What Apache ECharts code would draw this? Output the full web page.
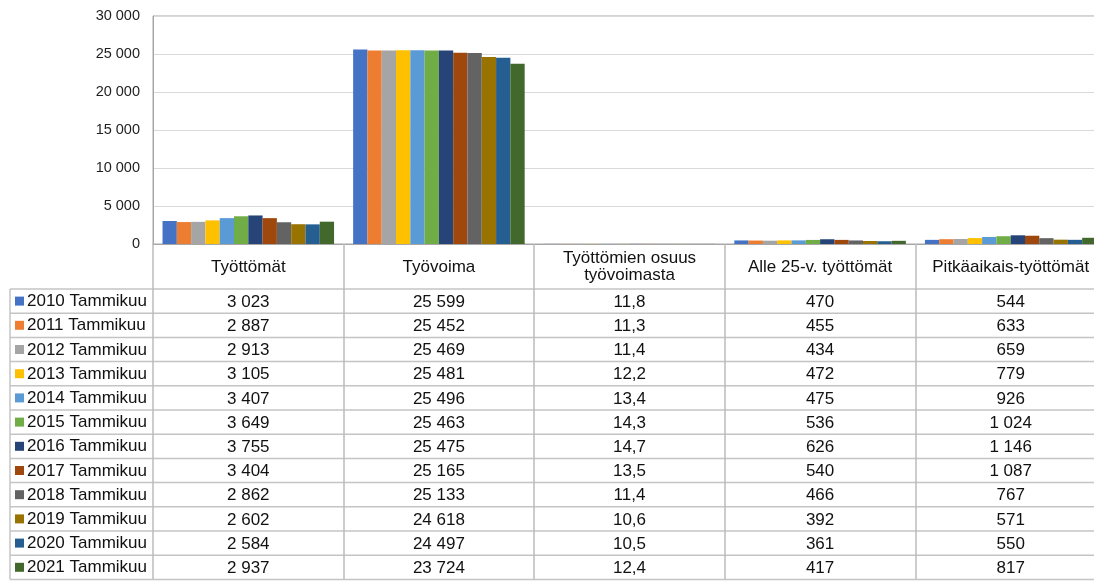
<!DOCTYPE html>
<html><head><meta charset="utf-8">
<script src="https://cdn.jsdelivr.net/npm/echarts@6/dist/echarts.min.js"></script>
<style>html,body{margin:0;padding:0;background:#fff}#c{width:1094px;height:581px}</style>
</head><body><div id="c"></div>
<script>
const categories = ['Työttömät', 'Työvoima', 'Työttömien osuus\ntyövoimasta', 'Alle 25-v. työttömät', 'Pitkäaikais-työttömät'];
const years = ['2010 Tammikuu','2011 Tammikuu','2012 Tammikuu','2013 Tammikuu','2014 Tammikuu','2015 Tammikuu','2016 Tammikuu','2017 Tammikuu','2018 Tammikuu','2019 Tammikuu','2020 Tammikuu','2021 Tammikuu'];
const tyottomat = [3023, 2887, 2913, 3105, 3407, 3649, 3755, 3404, 2862, 2602, 2584, 2937];
const tyovoima = [25599, 25452, 25469, 25481, 25496, 25463, 25475, 25165, 25133, 24618, 24497, 23724];
const osuus = [11.8, 11.3, 11.4, 12.2, 13.4, 14.3, 14.7, 13.5, 11.4, 10.6, 10.5, 12.4];
const alle25 = [470, 455, 434, 472, 475, 536, 626, 540, 466, 392, 361, 417];
const pitka = [544, 633, 659, 779, 926, 1024, 1146, 1087, 767, 571, 550, 817];
const yTicks = [0, 5000, 10000, 15000, 20000, 25000, 30000];
const colors = ['#4472C4','#ED7D31','#A5A5A5','#FFC000','#5B9BD5','#70AD47','#264478','#9E480E','#636363','#997300','#255E91','#43682B'];

const columns = [tyottomat, tyovoima, osuus, alle25, pitka];
function fmtInt(v){ return String(v).replace(/\B(?=(\d{3})+(?!\d))/g, ' '); }
function fmt(v, col){ return col === 2 ? v.toFixed(1).replace('.', ',') : fmtInt(v); }

const FONT = 'Liberation Sans, Arial, sans-serif';
const chart = echarts.init(document.getElementById('c'));
const gridTop = 16, gridBottomY = 244, headerBottom = 289, rowH = 24.2;

chart.setOption({
  animation: false,
  color: colors,
  grid: { left: 153, top: gridTop, width: 953, height: gridBottomY - gridTop, show: true, borderColor: '#a6a6a6', borderWidth: 1, outerBoundsMode: 'none', containLabel: false },
  xAxis: {
    type: 'category', data: categories,
    axisLine: { show: true, lineStyle: { color: '#a6a6a6', width: 1 } },
    axisTick: { show: true, length: 335, lineStyle: { color: '#bcbcbc', width: 1.5 } },
    axisLabel: { margin: 23, verticalAlign: 'middle', fontSize: 17, lineHeight: 17, color: '#111', fontFamily: FONT, interval: 0 }
  },
  yAxis: {
    type: 'value', min: yTicks[0], max: yTicks[yTicks.length-1], interval: 5000,
    axisLine: { show: true, lineStyle: { color: '#a6a6a6' } },
    axisTick: { show: false },
    splitLine: { lineStyle: { color: '#d9d9d9', width: 1 } },
    axisLabel: { margin: 13, fontSize: 14.5, color: '#1f1f1f', fontFamily: FONT, formatter: v => fmtInt(v) }
  },
  series: years.map((y, i) => ({
    name: y, type: 'bar', barGap: '0%', barCategoryGap: '10%',
    data: columns.map(c => c[i])
  }))
});

const g = [];
const tableBottom = headerBottom + rowH * years.length;
for (let r = 0; r <= years.length; r++) {
  const yy = headerBottom + rowH * r;
  g.push({ type: 'line', shape: { x1: 10, y1: yy, x2: 1094, y2: yy }, style: { stroke: '#c4c4c4', lineWidth: 1.5 }, silent: true });
}
g.push({ type: 'line', shape: { x1: 10, y1: headerBottom, x2: 10, y2: tableBottom }, style: { stroke: '#c4c4c4', lineWidth: 1.5 }, silent: true });
years.forEach((y, r) => {
  const cy = headerBottom + rowH * (r + 0.5);
  g.push({ type: 'rect', shape: { x: 15, y: cy - 4.5, width: 9, height: 9 }, style: { fill: colors[r] }, silent: true });
  g.push({ type: 'text', x: 27, y: cy + 0.5, style: { text: y, font: '17px ' + FONT, fill: '#111', verticalAlign: 'middle', align: 'left' }, silent: true });
  columns.forEach((col, j) => {
    const px = chart.convertToPixel({ xAxisIndex: 0 }, j);
    g.push({ type: 'text', x: px, y: cy + 1, style: { text: fmt(col[r], j), font: '17px ' + FONT, fill: '#111', verticalAlign: 'middle', align: 'center' }, silent: true });
  });
});
chart.setOption({ graphic: g });
</script></body></html>
